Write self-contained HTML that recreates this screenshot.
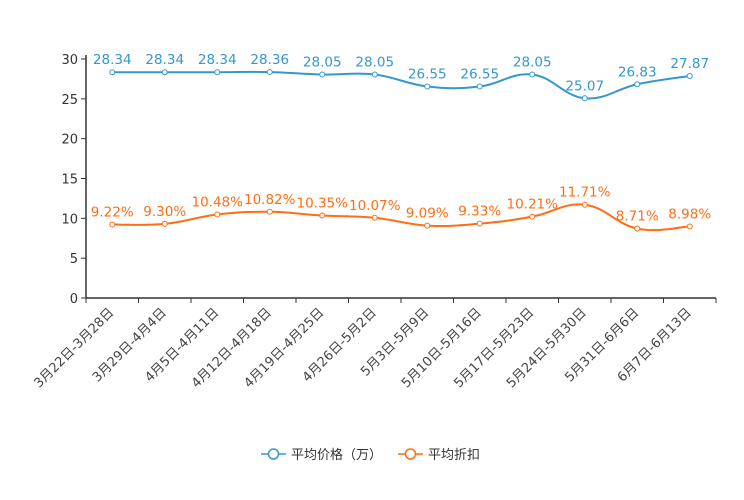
<!DOCTYPE html>
<html><head><meta charset="utf-8"><style>
body{margin:0;background:#fff;font-family:"DejaVu Sans","Noto Sans CJK SC",sans-serif}
</style></head><body>
<svg id="c" width="744" height="496" xmlns="http://www.w3.org/2000/svg" font-family="DejaVu Sans, Noto Sans CJK SC, sans-serif"></svg>
<script>
const categories=["3月22日-3月28日","3月29日-4月4日","4月5日-4月11日","4月12日-4月18日","4月19日-4月25日","4月26日-5月2日","5月3日-5月9日","5月10日-5月16日","5月17日-5月23日","5月24日-5月30日","5月31日-6月6日","6月7日-6月13日"];
const priceValues=[28.34,28.34,28.34,28.36,28.05,28.05,26.55,26.55,28.05,25.07,26.83,27.87];
const discountValues=[9.22,9.30,10.48,10.82,10.35,10.07,9.09,9.33,10.21,11.71,8.71,8.98];
const yTicks=[0,5,10,15,20,25,30];
const svg=document.getElementById('c');const NS="http://www.w3.org/2000/svg";
const x0=86,x1=716,yb=298,yt=59,ymax=30;
const bw=(x1-x0)/categories.length;
const xs=i=>x0+bw*(i+0.5);
const ys=v=>yb-(v/ymax)*(yb-yt);
function el(t,a,p){const e=document.createElementNS(NS,t);for(const k in a)e.setAttribute(k,a[k]);(p||svg).appendChild(e);return e;}
yTicks.forEach(v=>{
const t=el('text',{x:78,y:ys(v)+5,'text-anchor':'end','font-size':13,fill:'#333'});t.textContent=v;


el('line',{x1:81,x2:86,y1:ys(v),y2:ys(v),stroke:'#333'});
});
const ya=el('line',{x1:86,x2:86,y1:yt-4,y2:yb,stroke:'#333','stroke-width':1.5});


const xa=el('line',{x1:86,x2:x1,y1:yb,y2:yb,stroke:'#333','stroke-width':1.5});


categories.forEach((c,i)=>{
const tx=x0+bw*i;el('line',{x1:tx,x2:tx,y1:yb,y2:yb+5,stroke:'#333'});
const cx=xs(i)-4,cy=yb+9;
const t=el('text',{x:cx,y:cy,'text-anchor':'end','font-size':13,fill:'#444',transform:`rotate(-45 ${cx} ${cy})`,'dominant-baseline':'hanging'});t.textContent=c;


});
el('line',{x1:x1,x2:x1,y1:yb,y2:yb+5,stroke:'#333'});
function smooth(pts){let d=`M${pts[0][0]},${pts[0][1]}`;for(let i=0;i<pts.length-1;i++){const p0=pts[Math.max(0,i-1)],p1=pts[i],p2=pts[i+1],p3=pts[Math.min(pts.length-1,i+2)];const k=0.2;
d+=` C${p1[0]+(p2[0]-p0[0])*k},${p1[1]+(p2[1]-p0[1])*k} ${p2[0]-(p3[0]-p1[0])*k},${p2[1]-(p3[1]-p1[1])*k} ${p2[0]},${p2[1]}`;}return d;}
function series(vals,color,name,fmt){
const pts=vals.map((v,i)=>[xs(i),ys(v)]);
const p=el('path',{d:smooth(pts),fill:'none',stroke:color,'stroke-width':2});


vals.forEach((v,i)=>{
const c=el('circle',{cx:xs(i),cy:ys(v),r:2.5,fill:'#fff',stroke:color,'stroke-width':1});


const t=el('text',{x:xs(i),y:ys(v)-8,'text-anchor':'middle','font-size':13.5,fill:color});t.textContent=fmt(v);


});}
series(priceValues,'#3398d0','price',v=>v.toFixed(2));
series(discountValues,'#ff6e14','discount',v=>v.toFixed(2)+'%');
function legend(x,color,label,name){
const g=el('g',{});


el('line',{x1:x,x2:x+25,y1:454,y2:454,stroke:color,'stroke-width':1.5},g);
el('circle',{cx:x+12.5,cy:454,r:5,fill:'#fff',stroke:color,'stroke-width':1.5},g);
const t=el('text',{x:x+30,y:459,'font-size':13,fill:'#333'},g);t.textContent=label;}
legend(261,'#3398d0','平均价格（万）','legend-price');
legend(398,'#ff6e14','平均折扣','legend-discount');
</script>
</body></html>
